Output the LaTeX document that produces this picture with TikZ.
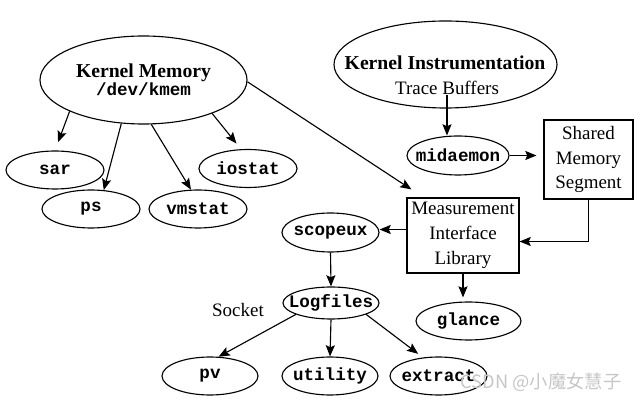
\documentclass[tikz,border=0pt]{standalone}
\usepackage{fontspec}
\setmainfont{Liberation Serif}
\setmonofont{Liberation Mono}
\newfontfamily\cjkfont{Noto Sans CJK SC}
\usetikzlibrary{arrows.meta, shapes.geometric}
\newcommand{\prog}[1]{{\fontsize{12.5}{15}\selectfont\ttfamily\bfseries #1}}
\begin{document}
\begin{tikzpicture}
  \tikzset{proc/.style={draw, ellipse, line width=0.8pt, inner xsep=-8pt, inner ysep=0pt, minimum width=2.45cm, minimum height=0.95cm},
    source/.style={draw, ellipse, line width=0.8pt, inner sep=0pt, align=center},
    store/.style={draw, rectangle, line width=0.8pt, inner sep=1pt, align=center, font=\fontsize{13.5}{17.6}\selectfont},
    arr/.style={-{Stealth[length=8pt, width=6.5pt, inset=1.5pt]}, line width=0.8pt}}
  \useasboundingbox (0,0) rectangle (16,10.05);
    \node[source, minimum width=5.175cm, minimum height=2.2cm] at (3.5875,8.05) (kmem) {{\fontsize{14}{16.5}\selectfont\bfseries Kernel Memory}\\ \prog{/dev/kmem}};
    \node[source, minimum width=5.575cm, minimum height=2.175cm] at (11.1375,8.4375) (kins) {};
    \node[inner sep=0pt, font=\fontsize{14}{16}\selectfont\bfseries] at (11.125,8.475) (kinsname) {Kernel Instrumentation};
    \node[inner sep=0pt, font=\fontsize{13.5}{16}\selectfont] at (11.175,7.85) (trace) {Trace Buffers};

    \node[proc] at (1.375,5.8) (sar) {\prog{sar}};
    \node[proc] at (2.275,4.825) (ps) {\prog{ps}};
    \node[proc] at (4.95,4.825) (vmstat) {\prog{vmstat}};
    \node[proc] at (6.2,5.8375) (iostat) {\prog{iostat}};
    \node[proc, minimum width=2.55cm, minimum height=0.975cm] at (11.45,6.1625) (midaemon) {\prog{midaemon}};
    \node[store, minimum width=2.225cm, minimum height=1.975cm] at (14.7125,6.0625) (shm) {Shared\\ Memory\\ Segment};
    \node[store, minimum width=2.8cm, minimum height=1.875cm] at (11.575,4.1625) (mil) {Measurement\\ Interface\\ Library};
    \node[proc, minimum width=2.425cm, minimum height=0.975cm] at (8.2625,4.2375) (scopeux) {\prog{scopeux}};
    \node[proc, minimum width=2.4cm, minimum height=0.8cm] at (8.275,2.475) (logfiles) {\prog{Logfiles}};
    \node[font=\fontsize{13.5}{16}\selectfont] at (5.95,2.3) (socket) {Socket};
    \node[proc, minimum width=2.625cm] at (11.7125,2.025) (glance) {\prog{glance}};
    \node[proc, minimum width=2.4cm] at (5.25,0.65) (pv) {\prog{pv}};
    \node[proc, minimum width=2.4cm] at (8.25,0.65) (utility) {\prog{utility}};
    \node[proc, minimum width=2.425cm] at (10.9625,0.65) (extract) {\prog{extract}};
    \node[text=gray!45, font=\cjkfont\fontsize{13}{13}\selectfont] at (13.525,0.5) (mark) {CSDN @小魔女慧子};

    \draw[arr, shorten >=0.22cm] (kmem.203) -- (sar.north);
    \draw[arr] (kmem.243) -- (ps.56);
    \draw[arr] (kmem.280) -- (vmstat.110);
    \draw[arr, shorten >=0.18cm] (kmem.334) -- (iostat.110);
    \draw[arr] (kmem.359) -- ([shift={(0.125,0.2)}]mil.north west);
    \draw[arr] (trace.south) -- (trace.south |- midaemon.north);
    \draw[arr, shorten >=0.175cm] (midaemon.east) -- (midaemon.east -| shm.west);
    \draw[arr] (shm.south) |- ([yshift=-0.15cm]mil.east);
    \draw[arr] ([yshift=0.15cm]mil.west) -- ([yshift=0.15cm]mil.west -| scopeux.east);
    \draw[arr] (scopeux.south) -- (logfiles.north);
    \draw[arr, shorten >=0.1cm] (mil.south) -- (mil.south |- glance.north);
    \draw[arr] (logfiles.198) -- (pv.66);
    \draw[arr] (logfiles.south) -- (utility.north);
    \draw[arr, shorten >=0.15cm] (logfiles.342) -- (extract.130);
  \end{tikzpicture}
\end{document}
